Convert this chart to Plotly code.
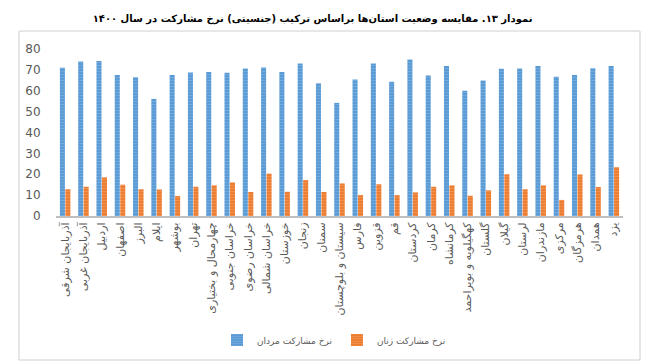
import plotly.graph_objects as go

provinces = [
    "آذربایجان شرقی", "آذربایجان غربی", "اردبیل", "اصفهان", "البرز", "ایلام",
    "بوشهر", "تهران", "چهارمحال و بختیاری", "خراسان جنوبی", "خراسان رضوی",
    "خراسان شمالی", "خوزستان", "زنجان", "سمنان", "سیستان و بلوچستان", "فارس",
    "قزوین", "قم", "کردستان", "کرمان", "کرمانشاه", "کهگیلویه و بویراحمد",
    "گلستان", "گیلان", "لرستان", "مازندران", "مرکزی", "هرمزگان", "همدان", "یزد",
]
men = [71.0, 74.0, 74.3, 67.5, 66.5, 56.1, 67.5, 68.8, 69.0, 68.6, 70.6,
       71.1, 69.0, 73.0, 63.6, 54.2, 65.4, 73.0, 64.3, 75.0, 67.3, 71.8,
       60.0, 64.9, 70.5, 70.6, 71.8, 66.7, 67.6, 70.8, 71.8]
women = [12.8, 14.0, 18.5, 15.0, 12.8, 12.7, 9.6, 14.0, 14.7, 16.1, 11.5,
         20.3, 11.6, 17.2, 11.5, 15.6, 10.0, 15.2, 10.0, 11.3, 14.0, 14.7,
         9.7, 12.3, 20.0, 12.8, 14.7, 7.7, 19.9, 13.9, 23.4]
men_name = "نرخ مشارکت مردان"
women_name = "نرخ مشارکت زنان"
title_text = "نمودار ۱۳. مقایسه وضعیت استان‌ها براساس ترکیب (جنسیتی) نرخ مشارکت در سال ۱۴۰۰"
y_ticks = [0, 10, 20, 30, 40, 50, 60, 70, 80]

fig = go.Figure()
fig.add_trace(go.Bar(
    x=provinces, y=men, name=men_name,
    marker=dict(color="#5b9bd5", line=dict(width=0),
                pattern=dict(shape="-", fgcolor="#8fbbe6", size=3, solidity=0.3)),
))
fig.add_trace(go.Bar(
    x=provinces, y=women, name=women_name,
    marker=dict(color="#ed7d31", line=dict(width=0),
                pattern=dict(shape="-", fgcolor="#f4a874", size=3, solidity=0.3)),
))

plot_h = 216 - 49
plot_w = 623 - 56
fig.update_layout(
    width=658, height=363,
    margin=dict(l=56, r=35, t=49, b=147, autoexpand=False),
    paper_bgcolor="white", plot_bgcolor="white",
    barmode="group", bargap=0.4, bargroupgap=0.08,
    font=dict(family="DejaVu Sans", color="#595959"),
    title=dict(text="<b>" + title_text + "</b>", x=0.475, xanchor="center",
               y=0.95, yanchor="middle",
               font=dict(family="DejaVu Sans", size=10, color="#000000")),
    showlegend=True,
    legend=dict(orientation="h", x=(334 - 56) / plot_w, xanchor="center",
                y=-(340 - 216) / plot_h, yanchor="middle",
                font=dict(family="DejaVu Sans", size=9, color="#595959"),
                itemwidth=30, traceorder="normal", tracegroupgap=0),
    xaxis=dict(tickangle=-90, tickfont=dict(family="DejaVu Sans", size=11, color="#595959"),
               showline=True, linecolor="#bfbfbf", linewidth=2, ticks="",
               showgrid=False, automargin=False),
    yaxis=dict(range=[0, 80], tickvals=y_ticks, showgrid=False, zeroline=False,
               tickfont=dict(family="DejaVu Sans", size=12, color="#595959"),
               showline=False, ticks="outside", ticklen=12, tickcolor="white",
               automargin=False),
    shapes=[dict(type="rect", xref="paper", yref="paper",
                 x0=-37 / plot_w, x1=(640 - 56) / plot_w,
                 y0=-(360 - 216) / plot_h, y1=(216 - 31) / plot_h,
                 line=dict(color="#cfcfcf", width=1), layer="below")],
)

fig.write_html("out.html", config={"displayModeBar": False},
               post_script="document.body.style.margin='0';document.body.style.padding='0';")
